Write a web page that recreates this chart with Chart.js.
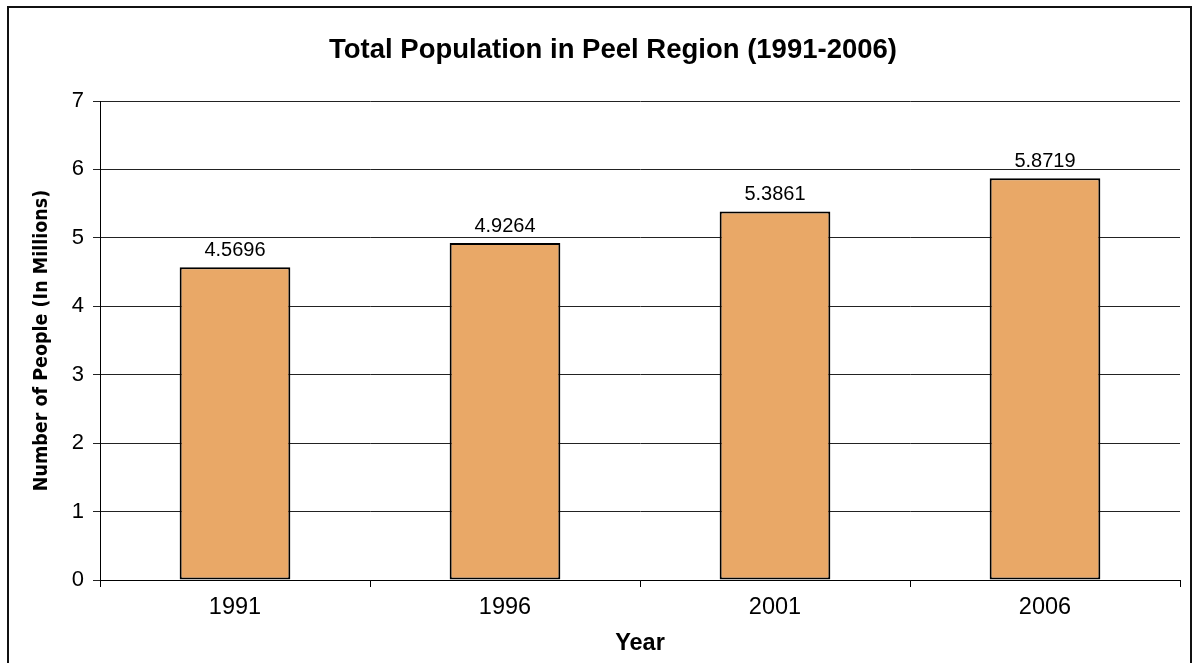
<!DOCTYPE html>
<html>
<head>
<meta charset="utf-8">
<script src="https://cdn.jsdelivr.net/npm/chart.js@4"></script>
<style>
  html, body { margin: 0; padding: 0; background: #fff; }
  #wrap { width: 1196px; height: 663px; position: relative; }
</style>
</head>
<body>
<div id="wrap"><canvas id="popChart"></canvas></div>
<script>
// Chart data
const years = ["1991", "1996", "2001", "2006"];
const population = [4.5696, 4.9264, 5.3861, 5.8719];
const yTicks = [0, 1, 2, 3, 4, 5, 6, 7];

const baseFont = "'Liberation Sans', Arial, sans-serif";
const narrowFont = "'Liberation Sans Narrow', 'DejaVu Sans Condensed', 'Liberation Sans', Arial, sans-serif";

// Outer frame around the chart
const framePlugin = {
    id: "frame",
    beforeDraw(chart) {
        const c = chart.ctx;
        c.save();
        c.fillStyle = "#fff";
        c.fillRect(0, 0, chart.width, chart.height);
        c.strokeStyle = "#111";
        c.lineWidth = 2;
        c.strokeRect(8, 7, 1183, 700);
        c.restore();
    },
};

// Value labels above the bars
const valueLabels = {
    id: "valueLabels",
    afterDatasetsDraw(chart) {
        const c = chart.ctx;
        const meta = chart.getDatasetMeta(0);
        c.save();
        c.font = "20px " + baseFont;
        c.fillStyle = "#000";
        c.textAlign = "center";
        c.textBaseline = "alphabetic";
        meta.data.forEach(function (bar, i) {
            c.fillText(population[i].toFixed(4), bar.x, bar.y - 11);
        });
        c.restore();
    },
};

new Chart(document.getElementById("popChart"), {
    type: "bar",
    data: {
        labels: years,
        datasets: [
            {
                data: population,
                backgroundColor: "#E9A867",
                borderColor: "#000",
                borderWidth: 2,
                borderSkipped: false,
                barPercentage: 0.41,
                categoryPercentage: 1,
            },
        ],
    },
    options: {
        responsive: true,
        maintainAspectRatio: false,
        animation: false,
        layout: { padding: { left: 30, right: 0, top: 0, bottom: 0 } },
        plugins: {
            legend: { display: false },
            tooltip: { enabled: false },
            title: {
                display: true,
                text: "Total Population in Peel Region (1991-2006)",
                color: "#000",
                font: { family: baseFont, size: 27.5, weight: "bold" },
                padding: { top: 34, bottom: 34 },
            },
        },
        scales: {
            x: {
                grid: {
                    drawOnChartArea: false,
                    drawTicks: true,
                    tickLength: 7,
                    color: "#000",
                },
                border: { color: "#000", width: 1 },
                ticks: {
                    color: "#000",
                    padding: 6,
                    font: { family: baseFont, size: 23.5 },
                },
                title: {
                    display: true,
                    text: "Year",
                    color: "#000",
                    font: { family: baseFont, size: 23.5, weight: "bold" },
                    padding: { top: 2, bottom: 5 },
                },
                afterFit(scale) {
                    scale.height = 83;
                },
            },
            y: {
                min: 0,
                max: 7,
                afterBuildTicks(scale) {
                    scale.ticks = yTicks.map(function (v) { return { value: v }; });
                },
                grid: {
                    color: "#222",
                    lineWidth: 1,
                    tickLength: 7,
                },
                border: { color: "#000", width: 1 },
                ticks: {
                    color: "#000",
                    padding: 9,
                    font: { family: baseFont, size: 22 },
                },
                title: {
                    display: true,
                    text: "Number of People (In Millions)",
                    color: "#000",
                    font: { family: narrowFont, size: 19.5, weight: "bold" },
                    padding: 0,
                },
                afterFit(scale) {
                    scale.width = 70;
                },
            },
            // spacer on the right so the plot ends where the reference does
            spacer: {
                type: "linear",
                position: "right",
                grid: { display: false },
                border: { display: false },
                ticks: { display: false },
                afterFit(scale) {
                    scale.width = 16;
                },
            },
        },
    },
    plugins: [framePlugin, valueLabels],
});
</script>
</body>
</html>
